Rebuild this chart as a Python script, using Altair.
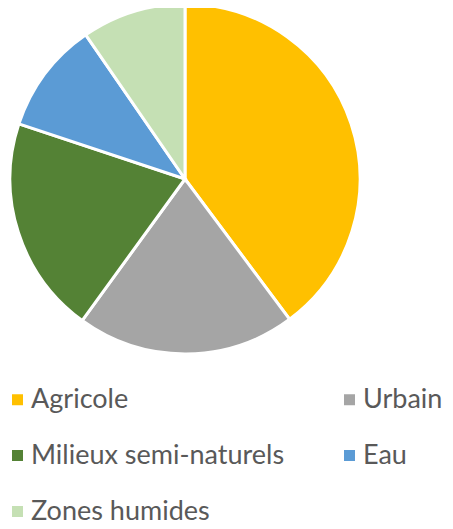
import altair as alt
import pandas as pd

categories = ["Agricole", "Urbain", "Milieux semi-naturels", "Eau", "Zones humides"]
values = [39.8, 20.2, 20.1, 10.3, 9.6]
colors = ["#FFC000", "#A5A5A5", "#548235", "#5B9BD5", "#C5E0B4"]

df = pd.DataFrame({"cat": categories, "val": values, "ord": list(range(len(categories)))})

chart = alt.Chart(df).mark_arc(radius=175, stroke="white", strokeWidth=3).encode(
    theta=alt.Theta("val:Q", stack=True),
    order=alt.Order("ord:Q"),
    x=alt.value(177),
    y=alt.value(171),
    color=alt.Color(
        "cat:N",
        scale=alt.Scale(domain=categories, range=colors),
        sort=categories,
        legend=alt.Legend(
            title=None,
            orient="none",
            direction="horizontal",
            legendX=-4,
            legendY=378,
            columns=2,
            columnPadding=51,
            rowPadding=28,
            symbolType="square",
            symbolSize=121,
            symbolStrokeWidth=0,
            labelFont="Lato",
            labelFontSize=27,
            labelColor="#595959",
            labelOffset=0,
            padding=0,
            labelLimit=400,
        ),
    ),
).properties(
    width=437,
    height=520,
    padding=0,
    autosize=alt.AutoSizeParams(type="none"),
).configure_view(stroke=None)

chart.save("out.html", embed_options={"renderer": "svg", "actions": False})
